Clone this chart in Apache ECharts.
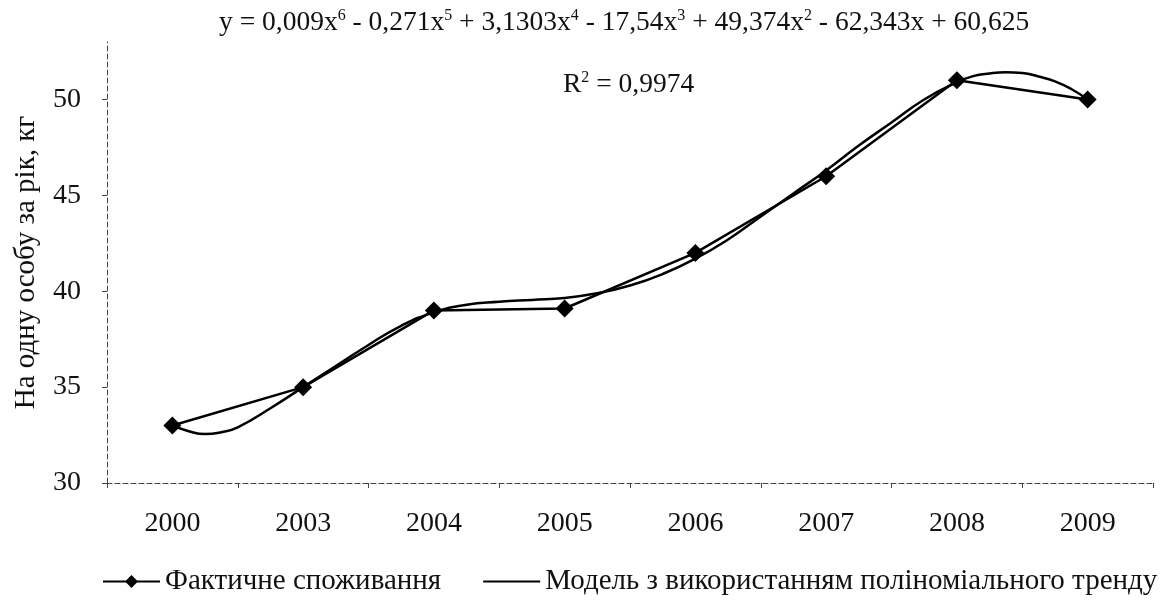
<!DOCTYPE html>
<html>
<head>
<meta charset="utf-8">
<script src="https://cdn.jsdelivr.net/npm/echarts@6/dist/echarts.min.js"></script>
<style>
  html, body { margin: 0; padding: 0; background: #fff; }
  #plot { width: 1170px; height: 604px; }
</style>
</head>
<body>
<div id="plot"></div>
<script>
// years and actual consumption, kg per person per year
const years = ["2000", "2003", "2004", "2005", "2006", "2007", "2008", "2009"];
const actual = [33, 35, 39, 39.1, 42, 46, 51, 50];

// polynomial trend curve (x = year position 1..8)
const trendX = [1, 1.125, 1.25, 1.375, 1.5, 1.75, 2, 2.25, 2.5, 2.75, 3, 3.25, 3.5, 3.75, 4, 4.25, 4.5,
  4.75, 5, 5.25, 5.5, 5.75, 6, 6.25, 6.5, 6.75, 7, 7.125, 7.25, 7.375, 7.5, 7.625, 7.75, 7.875, 8];
const trendY = [33.0, 32.7, 32.55, 32.65, 32.9, 33.9, 35.0, 36.1, 37.2, 38.2, 38.9, 39.3, 39.45, 39.55, 39.65,
  39.9, 40.3, 40.9, 41.7, 42.7, 43.9, 45.1, 46.3, 47.6, 48.8, 50.0, 50.9, 51.22, 51.36, 51.42, 51.38,
  51.2, 50.95, 50.55, 50.0];

const yTicks = [30, 35, 40, 45, 50];

const font = '"Liberation Serif", "Times New Roman", serif';
const axisStyle = { color: "#444", width: 1, type: [5, 3] };
const supStyle = { fontFamily: font, fontSize: 16, verticalAlign: "top", lineHeight: 30, color: "#111" };

const chart = echarts.init(document.getElementById("plot"));

chart.setOption({
  backgroundColor: "#fff",
  animation: false,
  textStyle: { fontFamily: font, color: "#111" },
  title: [
    {
      text: "y = 0,009x{s|6} - 0,271x{s|5} + 3,1303x{s|4} - 17,54x{s|3} + 49,374x{s|2} - 62,343x + 60,625",
      left: 214,
      top: 3,
      textStyle: {
        fontFamily: font, fontSize: 27.5, fontWeight: "normal", color: "#111", lineHeight: 30,
        rich: { s: supStyle }
      }
    },
    {
      text: "R{s|2} = 0,9974",
      left: 558,
      top: 65,
      textStyle: {
        fontFamily: font, fontSize: 27.5, fontWeight: "normal", color: "#111", lineHeight: 30,
        rich: { s: supStyle }
      }
    }
  ],
  legend: {
    left: 97,
    top: 562,
    itemWidth: 57,
    itemHeight: 16,
    itemGap: 41,
    textStyle: { fontFamily: font, fontSize: 29, color: "#111" },
    data: [
      { name: "Фактичне споживання" },
      { name: "Модель з використанням поліноміального тренду", itemStyle: { opacity: 0 } }
    ]
  },
  grid: { left: 107, right: 17, top: 42, bottom: 121 },
  xAxis: [
    {
      type: "category",
      data: years,
      axisLine: { lineStyle: axisStyle },
      axisTick: { show: true, length: 5, inside: false, lineStyle: axisStyle },
      axisLabel: { fontFamily: font, fontSize: 28, color: "#111", margin: 27 }
    },
    { type: "value", min: 0.5, max: 8.5, show: false }
  ],
  yAxis: {
    type: "value",
    min: 30,
    max: 53,
    interval: 5,
    name: "На одну особу за рік, кг",
    nameLocation: "middle",
    nameGap: 66,
    nameTextStyle: { fontFamily: font, fontSize: 29, color: "#111" },
    splitLine: { show: false },
    axisLine: { show: true, lineStyle: axisStyle },
    axisTick: { show: true, length: 6, customValues: yTicks, lineStyle: axisStyle },
    axisLabel: { fontFamily: font, fontSize: 28, color: "#111", margin: 26, customValues: yTicks }
  },
  series: [
    {
      name: "Фактичне споживання",
      type: "line",
      data: actual,
      xAxisIndex: 0,
      symbol: "diamond",
      symbolSize: 18,
      lineStyle: { color: "#000", width: 2.5 },
      itemStyle: { color: "#000" }
    },
    {
      name: "Модель з використанням поліноміального тренду",
      type: "line",
      xAxisIndex: 1,
      data: trendX.map((x, i) => [x, trendY[i]]),
      smooth: true,
      symbol: "none",
      lineStyle: { color: "#000", width: 2.5 },
      itemStyle: { color: "#000" }
    }
  ]
});
</script>
</body>
</html>
